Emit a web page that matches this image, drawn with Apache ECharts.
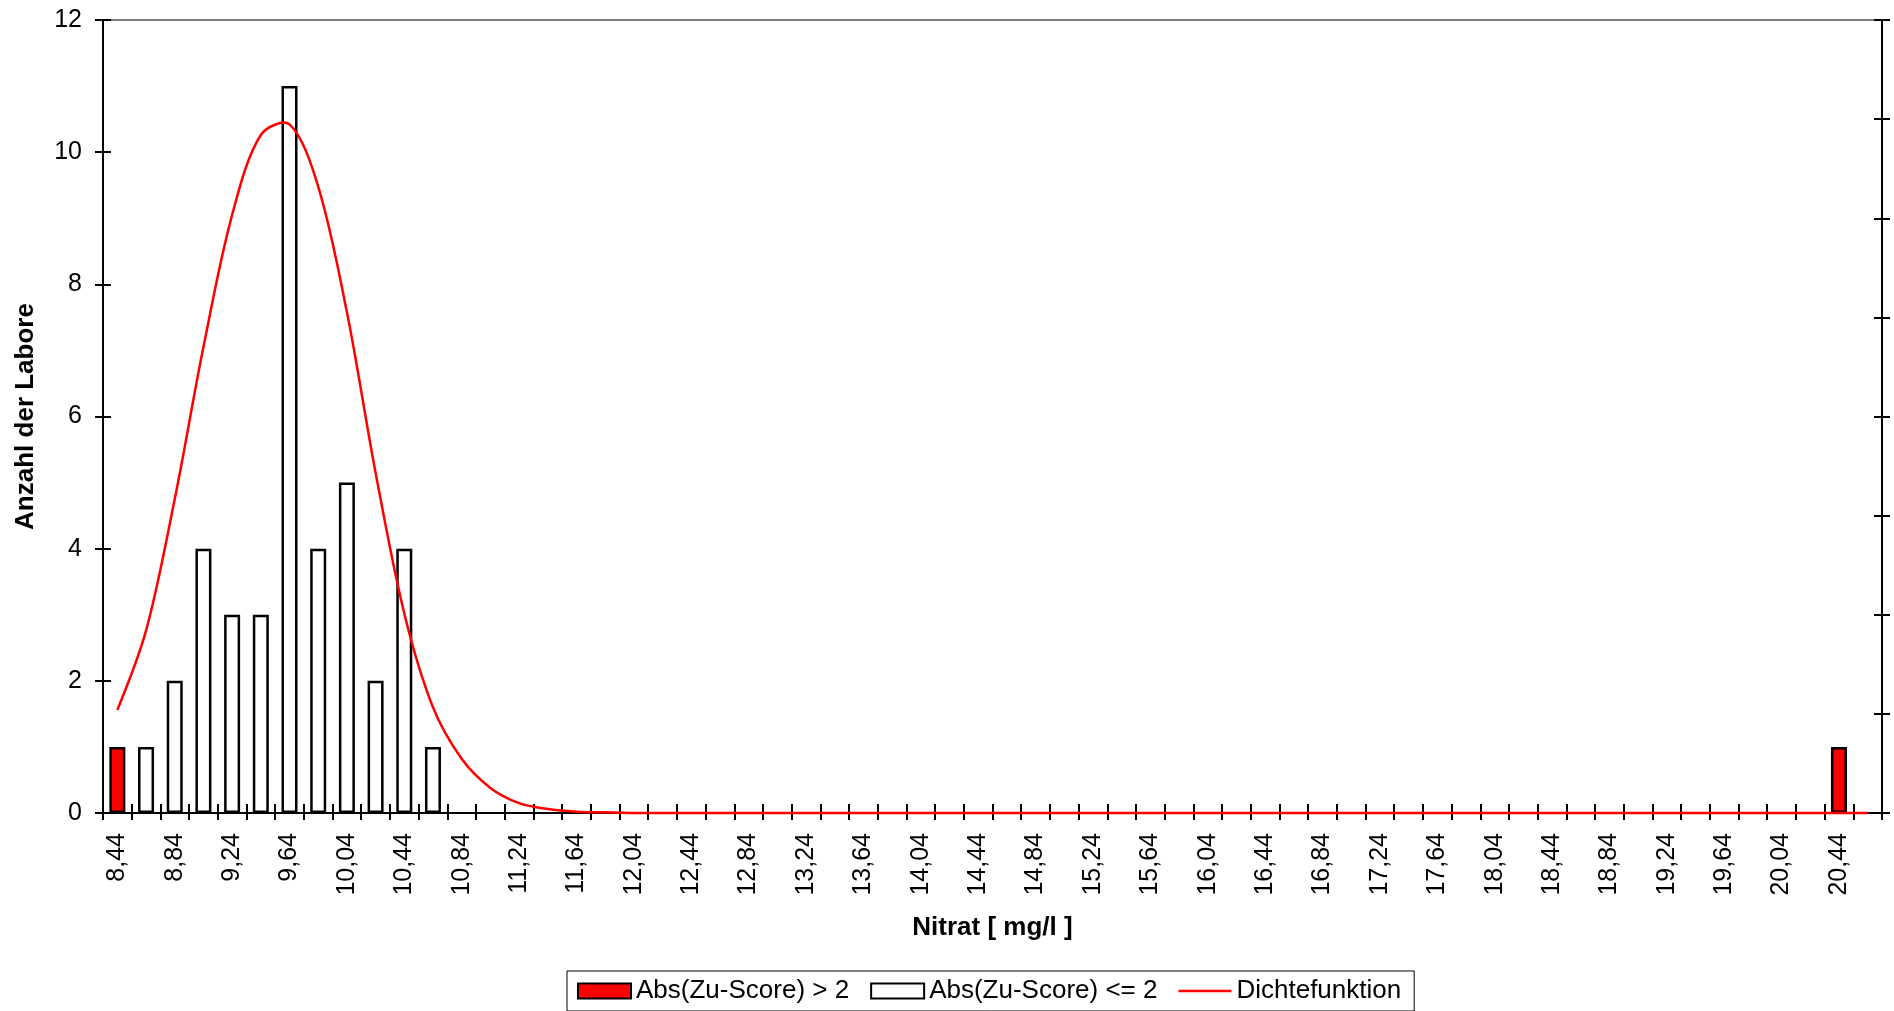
<!DOCTYPE html>
<html><head><meta charset="utf-8">
<script src="https://cdn.jsdelivr.net/npm/echarts@6/dist/echarts.min.js"></script>
<style>html,body{margin:0;padding:0;background:#fff}#chart{width:1894px;height:1011px}</style>
</head><body><div id="chart"></div>
<script>
const categories = ["8,44","8,64","8,84","9,04","9,24","9,44","9,64","9,84","10,04","10,24","10,44","10,64","10,84","11,04","11,24","11,44","11,64","11,84","12,04","12,24","12,44","12,64","12,84","13,04","13,24","13,44","13,64","13,84","14,04","14,24","14,44","14,64","14,84","15,04","15,24","15,44","15,64","15,84","16,04","16,24","16,44","16,64","16,84","17,04","17,24","17,44","17,64","17,84","18,04","18,24","18,44","18,64","18,84","19,04","19,24","19,44","19,64","19,84","20,04","20,24","20,44","20,64"];

const countAbove2 = [1,null,null,null,null,null,null,null,null,null,
  null,null,null,null,null,null,null,null,null,null,
  null,null,null,null,null,null,null,null,null,null,
  null,null,null,null,null,null,null,null,null,null,
  null,null,null,null,null,null,null,null,null,null,
  null,null,null,null,null,null,null,null,null,null,
  1,null];

const countBelow2 = [null,1,2,4,3,3,11,4,5,2,
  4,1,null,null,null,null,null,null,null,null,
  null,null,null,null,null,null,null,null,null,null,
  null,null,null,null,null,null,null,null,null,null,
  null,null,null,null,null,null,null,null,null,null,
  null,null,null,null,null,null,null,null,null,null,
  null,null];

const density = [1.56,2.76,4.75,7.05,9.05,10.26,10.42,9.48,7.58,5.15,
  3.02,1.6,0.82,0.38,0.15,0.06,0.02,0.01,0,0,
  0,0,0,0,0,0,0,0,0,0,
  0,0,0,0,0,0,0,0,0,0,
  0,0,0,0,0,0,0,0,0,0,
  0,0,0,0,0,0,0,0,0,0,
  0,0];

const seriesNames = ["Abs(Zu-Score) > 2", "Abs(Zu-Score) <= 2", "Dichtefunktion"];
const xTitle = "Nitrat [ mg/l ]";
const yTitle = "Anzahl der Labore";

const FONT = "'Liberation Sans', Arial, sans-serif";
const chart = echarts.init(document.getElementById('chart'), null, {renderer: 'canvas'});
const tickStyle = {color: '#000', width: 2};
chart.setOption({
  animation: false,
  backgroundColor: '#fff',
  textStyle: {fontFamily: FONT},
  grid: {left: 103, right: 12, top: 20, bottom: 198, show: true, borderColor: '#808080', borderWidth: 2, backgroundColor: 'transparent'},
  legend: {
    left: 567, top: 971,
    padding: [7, 13, 7, 10],
    itemWidth: 53, itemHeight: 15, itemGap: 21,
    borderColor: '#000', borderWidth: 1,
    textStyle: {fontSize: 26, color: '#000', fontFamily: FONT},
    data: [
      {name: seriesNames[0], icon: 'rect'},
      {name: seriesNames[1], icon: 'rect'},
      {name: seriesNames[2], icon: 'path://M0,0H0.01V0.01H0Z M0,6.25H53V8.75H0Z M0,14.99H0.01V15H0Z', itemStyle: {color: '#FF0000'}}
    ]
  },
  xAxis: [{
    type: 'category', data: categories, position: 'bottom', boundaryGap: true,
    axisLine: {show: true, lineStyle: {color: '#000', width: 2}},
    axisTick: {show: true, interval: 0, length: 7, lineStyle: tickStyle},
    axisLabel: {interval: 1, rotate: 90, fontSize: 25, color: '#000', margin: 20, fontFamily: FONT},
    name: xTitle, nameLocation: 'middle', nameGap: 102,
    nameTextStyle: {fontSize: 26, fontWeight: 'bold', color: '#000', fontFamily: FONT},
    splitLine: {show: false}
  }, {
    type: 'category', data: categories, position: 'bottom', boundaryGap: true,
    axisLine: {show: false},
    axisTick: {show: true, inside: true, interval: 0, length: 9, lineStyle: tickStyle},
    axisLabel: {show: false}, splitLine: {show: false}
  }],
  yAxis: [{
    type: 'value', position: 'left', min: 0, max: 12, interval: 2,
    axisLine: {show: true, lineStyle: {color: '#000', width: 2}},
    axisTick: {show: true, length: 8, lineStyle: tickStyle},
    axisLabel: {fontSize: 25, color: '#000', margin: 21, fontFamily: FONT},
    splitLine: {show: false},
    name: yTitle, nameLocation: 'middle', nameGap: 64,
    nameTextStyle: {fontSize: 26, fontWeight: 'bold', color: '#000', fontFamily: FONT}
  }, {
    type: 'value', position: 'right', min: 0, max: 8, interval: 1,
    axisLine: {show: true, lineStyle: {color: '#000', width: 2}},
    axisTick: {show: true, length: 8, lineStyle: tickStyle},
    axisLabel: {show: false}, splitLine: {show: false}
  }, {
    type: 'value', position: 'left', min: 0, max: 12, interval: 2,
    axisLine: {show: false},
    axisTick: {show: true, inside: true, length: 8, lineStyle: tickStyle},
    axisLabel: {show: false}, splitLine: {show: false}
  }, {
    type: 'value', position: 'right', min: 0, max: 8, interval: 1,
    axisLine: {show: false},
    axisTick: {show: true, inside: true, length: 8, lineStyle: tickStyle},
    axisLabel: {show: false}, splitLine: {show: false}
  }],
  series: [{
    name: seriesNames[0], type: 'bar', stack: 'n', data: countAbove2, barWidth: 16,
    itemStyle: {color: '#FF0000', borderColor: '#000', borderWidth: 2.5}
  }, {
    name: seriesNames[1], type: 'bar', stack: 'n', data: countBelow2, barWidth: 16,
    itemStyle: {color: '#FFFFFF', borderColor: '#000', borderWidth: 2.5}
  }, {
    name: seriesNames[2], type: 'custom', xAxisIndex: 0, yAxisIndex: 0, z: 5,
    data: [[0, density[0]]],
    itemStyle: {color: '#FF0000'},
    renderItem: function (params, api) {
      const pts = density.map(function (v, i) { return api.coord([i, v]); });
      return {
        type: 'polyline',
        shape: {points: pts, smooth: 0.33},
        style: {stroke: '#FF0000', lineWidth: 2.5, fill: null}
      };
    }
  }]
});
</script>
</body></html>
